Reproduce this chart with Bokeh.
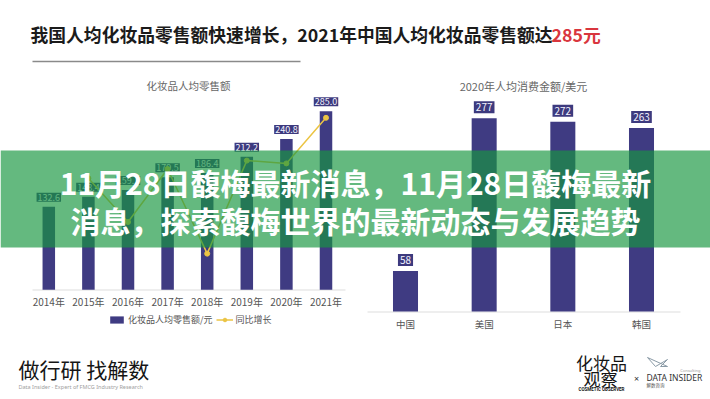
import numpy as np
from bokeh.plotting import figure
from bokeh.models import Range1d, Legend, LegendItem
from bokeh.core.properties import value
from bokeh.embed import file_html
from bokeh.resources import INLINE

# ---------------- data ----------------
years = ["2014年", "2015年", "2016年", "2017年", "2018年", "2019年", "2020年", "2021年"]
retail = [132.6, 148.4, 159.1, 179.5, 186.4, 212.2, 240.8, 285.0]
growth_years = ["2015年", "2016年", "2017年", "2018年", "2019年", "2020年", "2021年"]
growth = [11.9, 7.2, 12.9, 3.8, 13.8, 13.5, 18.4]
countries = ["中国", "美国", "日本", "韩国"]
spend = [58, 277, 272, 263]

title_main = "我国人均化妆品零售额快速增长，2021年中国人均化妆品零售额达"
title_hl = "285元"
left_title = "化妆品人均零售额"
right_title = "2020年人均消费金额/美元"
legend_labels = ["化妆品人均零售额/元", "同比增长"]
banner_lines = ["11月28日馥梅最新消息，11月28日馥梅最新",
                "消息，探索馥梅世界的最新动态与发展趋势"]
footer_left = "做行研 找解数"
footer_left_sub = "Data Insider - Expert of FMCG Industry Research"

# ---------------- layout ----------------
W, H, OFF = 710, 399, 0
NAVY = "#3f3b82"
GOLD = "#ebc444"
CJK = "Noto Sans CJK SC"


def rng(p0, v0, p1, v1, lo, hi):
    k = (v1 - v0) / (p1 - p0)
    return Range1d(start=v0 + (lo - p0) * k, end=v0 + (hi - p0) * k)


p = figure(width=W, height=H, output_backend="svg", toolbar_location=None,
           x_range=Range1d(OFF, OFF + W), y_range=Range1d(OFF + H, OFF),
           x_axis_location=None, y_axis_location=None, min_border=0,
           outline_line_color=None, background_fill_color="white")
p.grid.visible = False

XL, XR, YB, YT = OFF, OFF + W, OFF + H, OFF
p.extra_x_ranges = {
    "lx": rng(48.3, 0, 325.5, 7, XL, XR),
    "rx": rng(405, 0, 641, 3, XL, XR),
}
p.extra_y_ranges = {
    "lv": rng(289.3, 0, 110.7, 285, YB, YT),
    "lg": rng(288.5, 0, 117.3, 18.4, YB, YT),
    "rv": rng(311, 0, 117.7, 277, YB, YT),
}

li = list(range(len(years)))
gi = [years.index(y) for y in growth_years]
ri = list(range(len(countries)))

# ---- title ----
p.text(x=[30], y=[33], text=[title_main], text_baseline="middle", text_align="left",
       text_font=value(CJK), text_font_style="bold", text_font_size="17.8px", text_color="#1b1b1b")
p.text(x=[551], y=[33], text=[title_hl], text_baseline="middle", text_align="left",
       text_font=value(CJK), text_font_style="bold", text_font_size="17.8px", text_color="#d9363e")

# ---- left chart ----
p.segment(x0=[32], y0=[61], x1=[300], y1=[61], line_color="#8a8a8a", line_width=1.5)
p.text(x=[188], y=[85], text=[left_title], text_align="center", text_baseline="middle",
       text_font=value(CJK), text_font_size="10.5px", text_color="#666666")
p.segment(x0=[32], y0=[289.5], x1=[345], y1=[289.5], line_color="#dddddd", line_width=1)
bars_l = p.vbar(x=li, top=retail, bottom=0, width=0.316, x_range_name="lx", y_range_name="lv",
                fill_color=NAVY, line_color=None)
p.text(x=li, y=retail, text=[f"{v:.1f}" for v in retail], x_range_name="lx", y_range_name="lv",
       text_align="center", text_baseline="bottom", y_offset=-5,
       text_font=value(CJK), text_font_size="9px", text_color="#f4f4ff",
       background_fill_color="#3d3a7e", padding=1)
line_r = p.line(x=gi, y=growth, x_range_name="lx", y_range_name="lg", line_color=GOLD, line_width=1.5)
dots_r = p.scatter(x=gi, y=growth, x_range_name="lx", y_range_name="lg", size=5,
                   fill_color=GOLD, line_color=GOLD)
p.text(x=li, y=[301] * len(li), text=years, x_range_name="lx", text_align="center",
       text_baseline="middle", text_font=value(CJK), text_font_size="10px", text_color="#555555")

legend = Legend(items=[LegendItem(label=legend_labels[0], renderers=[bars_l]),
                       LegendItem(label=legend_labels[1], renderers=[line_r, dots_r])],
                location=(108, 73), orientation="horizontal",
                border_line_color=None, background_fill_alpha=0, padding=0, margin=0,
                spacing=3, label_standoff=3, glyph_width=17, glyph_height=9, label_height=10,
                label_text_font_size="9px", label_text_color="#555555", label_text_font=CJK)
p.add_layout(legend)

# ---- right chart ----
p.text(x=[523], y=[85], text=[right_title], text_align="center", text_baseline="middle",
       text_font=value(CJK), text_font_size="11px", text_color="#666666")
p.segment(x0=[367], y0=[311.5], x1=[680], y1=[311.5], line_color="#dddddd", line_width=1)
p.vbar(x=ri, top=spend, bottom=0, width=0.318, x_range_name="rx", y_range_name="rv",
       fill_color=NAVY, line_color=None)
p.text(x=ri, y=spend, text=[str(v) for v in spend], x_range_name="rx", y_range_name="rv",
       text_align="center", text_baseline="bottom", y_offset=-5,
       text_font=value(CJK), text_font_size="10px", text_color="#f4f4ff",
       background_fill_color="#3d3a7e", padding=2)
p.text(x=ri, y=[323] * len(ri), text=countries, x_range_name="rx", text_align="center",
       text_baseline="middle", text_font=value(CJK), text_font_size="9.5px", text_color="#555555")

# ---- banner overlay ----
p.quad(left=[XL], right=[XR], top=[150], bottom=[247], fill_color="#189640", fill_alpha=0.67,
       line_color=None)
p.text(x=[355, 355], y=[181, 219], text=banner_lines, text_align="center", text_baseline="middle",
       text_font=value(CJK), text_font_style="bold", text_font_size="30px", text_color="white")

# ---- footer ----
p.text(x=[18], y=[368], text=[footer_left], text_align="left", text_baseline="middle",
       text_font=value(CJK), text_font_size="21px", text_color="#151515")
p.text(x=[18], y=[386.5], text=[footer_left_sub], text_align="left", text_baseline="middle",
       text_font=value("Noto Sans"), text_font_size="5.5px", text_color="#a0a0a0")
p.text(x=[601, 600], y=[362, 378], text=["化妆品", "观察"], text_align="center",
       text_baseline="middle", text_font=value(CJK), text_font_size="17px", text_color="#151515")
p.text(x=[601], y=[388.5], text=["COSMETIC OBSERVER"], text_align="center", text_baseline="middle",
       text_font=value("Roboto"), text_font_style="bold", text_font_size="4.5px", text_color="#151515")
p.text(x=[636], y=[378], text=["×"], text_align="center", text_baseline="middle",
       text_font=value("Noto Sans"), text_font_size="9px", text_color="#333333")
p.line(x=[647, 655, 667, 660, 667, 647], y=[357, 366, 359, 366, 366, 357], line_color="#8a9aa6", line_width=1)
p.text(x=[646], y=[377], text=["DATA INSIDER"], text_align="left", text_baseline="middle",
       text_font=value("Noto Sans"), text_font_size="8.5px", text_color="#333333")
p.text(x=[646], y=[384.5], text=["解数咨询"], text_align="left", text_baseline="middle",
       text_font=value(CJK), text_font_size="4.5px", text_color="#555555")
p.text(x=[700], y=[370], text=["Consulting"], text_align="right", text_baseline="middle",
       text_font=value("Noto Sans"), text_font_size="4px", text_color="#999999")

open("out.html", "w").write(file_html(p, INLINE))
